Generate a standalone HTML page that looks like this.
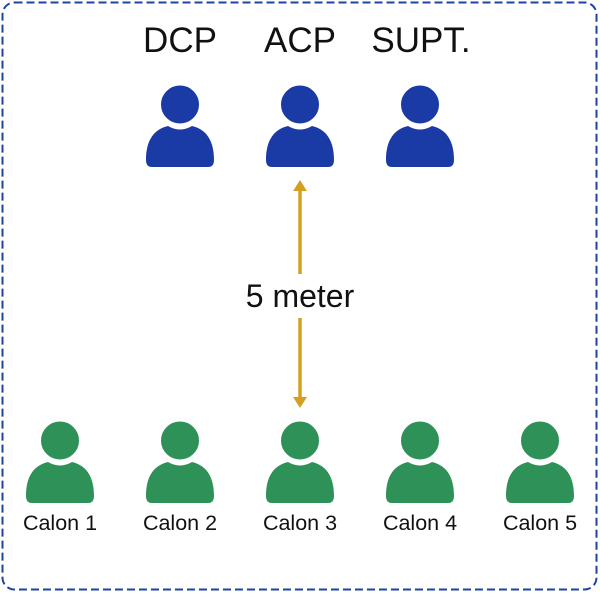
<!DOCTYPE html>
<html><head><meta charset="utf-8"><style>
html,body{margin:0;padding:0;background:#fff;}
svg{display:block;}
text{font-family:"Liberation Sans",Arial,sans-serif;fill:#111;}
</style></head><body>
<svg width="600" height="593" viewBox="0 0 600 593" xmlns="http://www.w3.org/2000/svg">
<defs>
<g id="p">
<path d="M-34,75 C-34,54 -25,44 -12,41 Q0,48 12,41 C25,44 34,54 34,75 Q34,82 28,82 L-28,82 Q-34,82 -34,75Z"/>
<circle cx="0" cy="19.5" r="20.5" stroke="#fff" stroke-width="3"/>
</g>
</defs>
<rect x="2.5" y="2.5" width="594" height="587" rx="12" fill="none" stroke="#1e44a0" stroke-width="2" stroke-dasharray="8,4"/>
<g font-size="35" text-anchor="middle">
<text x="180" y="52">DCP</text>
<text x="300" y="52">ACP</text>
<text x="421" y="52">SUPT.</text>
</g>
<g fill="#1a3aa6">
<use href="#p" x="180" y="85"/>
<use href="#p" x="300" y="85"/>
<use href="#p" x="420" y="85"/>
</g>
<g fill="#2e9157">
<use href="#p" x="60" y="421"/>
<use href="#p" x="180" y="421"/>
<use href="#p" x="300" y="421"/>
<use href="#p" x="420" y="421"/>
<use href="#p" x="540" y="421"/>
</g>
<g stroke="#d4a022" stroke-width="3.5">
<line x1="300" y1="188" x2="300" y2="274"/>
<line x1="300" y1="318" x2="300" y2="400"/>
</g>
<g fill="#d4a022">
<polygon points="300,180 293,191 307,191"/>
<polygon points="300,408 293,397 307,397"/>
</g>
<text x="300" y="307" font-size="32" text-anchor="middle">5 meter</text>
<g font-size="21.5" text-anchor="middle">
<text x="60" y="530">Calon 1</text>
<text x="180" y="530">Calon 2</text>
<text x="300" y="530">Calon 3</text>
<text x="420" y="530">Calon 4</text>
<text x="540" y="530">Calon 5</text>
</g>
</svg>
</body></html>
